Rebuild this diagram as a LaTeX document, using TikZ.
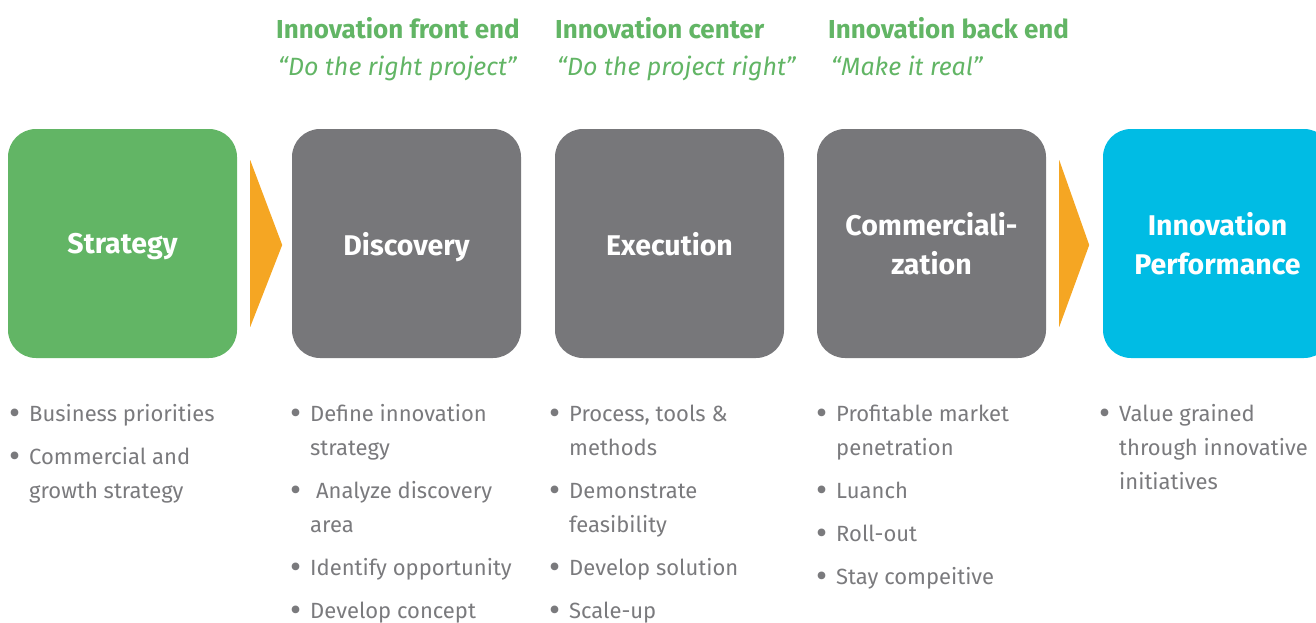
\documentclass[tikz,border=0pt]{standalone}
\usepackage{fontspec}
\setmainfont{Fira Sans}
\usetikzlibrary{calc}

\definecolor{phasegreen}{HTML}{62B565}
\definecolor{phasegray}{HTML}{77777A}
\definecolor{phaseblue}{HTML}{00BCE4}
\definecolor{flowarrow}{HTML}{F5A623}
\definecolor{listgray}{HTML}{7A7A7D}

% bullet with a fixed-width box; continuation lines use the same indent
\newlength{\bulletw}
\setlength{\bulletw}{18pt}
\newcommand{\bul}{\strut\makebox[\bulletw][l]{\hspace*{-1.5pt}\raisebox{-3.2pt}{\fontsize{34}{34}\selectfont •}}}
\newcommand{\cont}{\strut\hspace*{\bulletw}}

\tikzset{
  phase/.style={rectangle, rounded corners=28pt, minimum width=229pt,
    minimum height=229pt, inner sep=0pt, text=white, align=center,
    font=\fontsize{28.5}{39}\selectfont\bfseries},
  oneline/.style={text depth=0pt},
  stagehead/.style={anchor=base west, inner sep=0pt, text=phasegreen,
    font=\fontsize{26}{30}\selectfont\bfseries},
  stagemotto/.style={anchor=base west, inner sep=0pt, text=phasegreen,
    font=\fontsize{25}{30}\selectfont\itshape},
  itemlist/.style={anchor=north west, inner sep=0pt, align=left, text=listgray,
    font=\fontsize{22}{34}\selectfont},
}

\begin{document}
\begin{tikzpicture}[x=1pt,y=-1pt]
\useasboundingbox (0,0) rectangle (1316,622);

% stage headings
\node[stagehead] (h1) at (276,38) {Innovation front end};
\node[stagemotto] (m1) at (278,75) {“Do the right project”};
\node[stagehead] (h2) at (555,38) {Innovation center};
\node[stagemotto] (m2) at (557,75) {“Do the project right”};
\node[stagehead] (h3) at (828,38) {Innovation back end};
\node[stagemotto] (m3) at (831,75) {“Make it real”};

% phase boxes
\node[phase, oneline, fill=phasegreen] (strat) at (122.5,243.5) {Strategy};
\node[phase, oneline, fill=phasegray] (disc) at (406.5,243.5) {Discovery};
\node[phase, oneline, fill=phasegray] (exec) at (669.5,243.5) {Execution};
\node[phase, fill=phasegray] (comm) at (931.5,243.5) {Commerciali-\\zation};
\node[phase, fill=phaseblue] (perf) at (1217.5,243.5) {Innovation\\Performance};

% flow arrows
\fill[flowarrow] ($(strat.east)+(13,-83.5)$) -- ($(strat.east)+(45,1.5)$)
  -- ($(strat.east)+(13,83.5)$) -- cycle;
\fill[flowarrow] ($(comm.east)+(13,-83.5)$) -- ($(comm.east)+(43,1.5)$)
  -- ($(comm.east)+(13,83.5)$) -- cycle;

% activity lists
\node[itemlist] (l1) at (11,397.5) {\bul Business priorities\\[9pt]
  \bul Commercial and\\ \cont growth strategy};
\node[itemlist] (l2) at (292,397.5) {\bul Define innovation\\ \cont strategy\\[9pt]
  \bul\ Analyze discovery\\ \cont area\\[9pt]
  \bul Identify opportunity\\[9pt]
  \bul Develop concept};
\node[itemlist] (l3) at (551,397.5) {\bul Process, tools \&\\ \cont methods\\[9pt]
  \bul Demonstrate\\ \cont feasibility\\[9pt]
  \bul Develop solution\\[9pt]
  \bul Scale-up};
\node[itemlist] (l4) at (818,397.5) {\bul Profitable market\\ \cont penetration\\[9pt]
  \bul Luanch\\[9pt]
  \bul Roll-out\\[9pt]
  \bul Stay compeitive};
\node[itemlist] (l5) at (1101,397.5) {\bul Value grained\\ \cont through innovative\\ \cont initiatives};
\end{tikzpicture}
\end{document}
